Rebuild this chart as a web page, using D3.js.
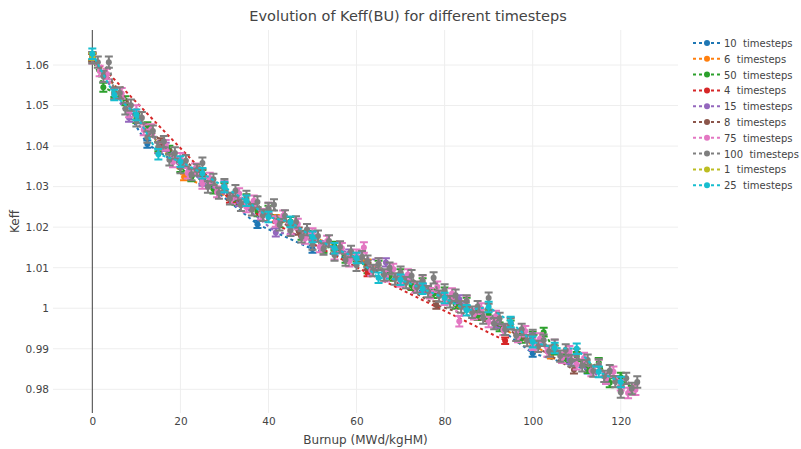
<!DOCTYPE html>
<html>
<head>
<meta charset="utf-8">
<script src="https://cdn.jsdelivr.net/npm/d3@7"></script>
<style>
  body { margin: 0; background: #fff; }
  svg { display: block; }
  text { font-family: "DejaVu Sans", Verdana, sans-serif; fill: #444; }
</style>
</head>
<body>
<svg id="chart" width="801" height="449"></svg>
<script>
// Total burnup covered by each depletion run (MWd/kgHM); a run with N timesteps
// reports Keff at N equally spaced burnup points starting from 0.
const TOTAL_BURNUP = 125;

const seriesNames = ["10  timesteps", "6  timesteps", "50  timesteps", "4  timesteps",
  "15  timesteps", "8  timesteps", "75  timesteps", "100  timesteps", "1  timesteps", "25  timesteps"];
const timestepCounts = [10, 6, 50, 4, 15, 8, 75, 100, 1, 25];
const seriesColors = ["#1f77b4", "#ff7f0e", "#2ca02c", "#d62728", "#9467bd",
  "#8c564b", "#e377c2", "#7f7f7f", "#bcbd22", "#17becf"];

// Keff values for each run
const keff10 = [1.0621, 1.0405, 1.0316, 1.0207, 1.0146, 1.0110, 1.0052, 0.9990, 0.9889, 0.9848];
const keff6 = [1.0619, 1.0324, 1.0222, 1.0112, 1.0010, 0.9884];
const keff50 = [
  1.0618, 1.0545, 1.0532, 1.0512, 1.0468, 1.0448, 1.0398, 1.0390, 1.0347, 1.0324,
  1.0330, 1.0294, 1.0298, 1.0266, 1.0270, 1.0238, 1.0242, 1.0211, 1.0214, 1.0180,
  1.0180, 1.0148, 1.0153, 1.0123, 1.0126, 1.0097, 1.0106, 1.0079, 1.0085, 1.0056,
  1.0063, 1.0036, 1.0040, 1.0010, 1.0015, 0.9982, 0.9985, 0.9954, 0.9959, 0.9926,
  0.9931, 0.9941, 0.9897, 0.9876, 0.9881, 0.9851, 0.9866, 0.9816, 0.9830, 0.9798];
const keff4 = [1.0621, 1.0268, 1.0087, 0.9920];
const keff15 = [1.0622, 1.0470, 1.0398, 1.0312, 1.0262, 1.0187, 1.0178, 1.0135,
  1.0113, 1.0050, 1.0022, 0.9962, 0.9928, 0.9873, 0.9824];
const keff8 = [1.0618, 1.0410, 1.0276, 1.0190, 1.0104, 1.0008, 0.9952, 0.9848];
const keff75 = [
  1.0617, 1.0585, 1.0578, 1.0528, 1.0530, 1.0484, 1.0488, 1.0440, 1.0441, 1.0396,
  1.0402, 1.0361, 1.0370, 1.0333, 1.0344, 1.0308, 1.0321, 1.0287, 1.0301, 1.0270,
  1.0283, 1.0250, 1.0265, 1.0232, 1.0247, 1.0214, 1.0228, 1.0195, 1.0208, 1.0172,
  1.0184, 1.0151, 1.0166, 1.0133, 1.0148, 1.0116, 1.0132, 1.0150, 1.0093, 1.0110,
  1.0079, 1.0097, 1.0066, 1.0083, 1.0051, 1.0068, 1.0037, 1.0053, 1.0021, 1.0036,
  0.9968, 1.0018, 0.9985, 0.9999, 0.9966, 0.9981, 0.9947, 0.9964, 0.9929, 0.9943,
  0.9910, 0.9925, 0.9893, 0.9909, 0.9878, 0.9894, 0.9862, 0.9877, 0.9845, 0.9860,
  0.9827, 0.9843, 0.9810, 0.9791, 0.9799];
const keff100 = [
  1.0618, 1.0607, 1.0572, 1.0607, 1.0530, 1.0531, 1.0492, 1.0501, 1.0462, 1.0470,
  1.0422, 1.0437, 1.0396, 1.0411, 1.0366, 1.0383, 1.0347, 1.0364, 1.0330, 1.0341,
  1.0358, 1.0299, 1.0318, 1.0284, 1.0305, 1.0270, 1.0290, 1.0254, 1.0276, 1.0243,
  1.0262, 1.0229, 1.0246, 1.0255, 1.0206, 1.0228, 1.0192, 1.0213, 1.0176, 1.0194,
  1.0158, 1.0178, 1.0146, 1.0166, 1.0131, 1.0151, 1.0119, 1.0140, 1.0106, 1.0127,
  1.0116, 1.0093, 1.0109, 1.0082, 1.0099, 1.0072, 1.0089, 1.0063, 1.0080, 1.0052,
  1.0068, 1.0041, 1.0075, 1.0030, 1.0045, 1.0016, 1.0032, 1.0003, 1.0018, 0.9990,
  1.0004, 0.9976, 1.0025, 0.9962, 0.9975, 0.9948, 0.9962, 0.9933, 0.9948, 0.9920,
  0.9933, 0.9906, 0.9921, 0.9894, 0.9909, 0.9882, 0.9897, 0.9871, 0.9886, 0.9858,
  0.9872, 0.9845, 0.9860, 0.9832, 0.9846, 0.9819, 0.9793, 0.9827, 0.9802, 0.9818];
const keff1 = [1.0621];
const keff25 = [1.0628, 1.0526, 1.0477, 1.0380, 1.0362, 1.0333, 1.0299, 1.0265, 1.0225,
  1.0213, 1.0176, 1.0148, 1.0124, 1.0075, 1.0070, 1.0048, 1.0025, 0.9995, 1.0003,
  0.9966, 0.9917, 0.9902, 0.9900, 0.9843, 0.9818];

const seriesValues = [keff10, keff6, keff50, keff4, keff15, keff8, keff75, keff100, keff1, keff25];
// One-sigma statistical uncertainty of Keff for each run
const seriesErrors = [0.0009, 0.0008, 0.0011, 0.0008, 0.0010, 0.0009, 0.0013, 0.0014, 0.0008, 0.0013];

const xTicks = [0, 20, 40, 60, 80, 100, 120];
const yTicks = [0.98, 0.99, 1.00, 1.01, 1.02, 1.03, 1.04, 1.05, 1.06];

const titleText = "Evolution of Keff(BU) for different timesteps";
const xTitle = "Burnup (MWd/kgHM)";
const yTitle = "Keff";

// ---- layout ----
const svg = d3.select("#chart");
const plot = { left: 53, right: 678, top: 30, bottom: 413 };

const x = d3.scaleLinear().domain([-8.93, 133.0]).range([plot.left, plot.right]);
const y = d3.scaleLinear().domain([0.974154, 1.068634]).range([plot.bottom, plot.top]);

const series = seriesNames.map((name, k) => ({
  name,
  color: seriesColors[k],
  err: seriesErrors[k],
  points: seriesValues[k].map((v, i) => ({ bu: i * TOTAL_BURNUP / timestepCounts[k], keff: v }))
}));

// grid lines
const grid = svg.append("g");
grid.selectAll("line.gx").data(xTicks).join("line")
  .attr("x1", d => x(d)).attr("x2", d => x(d))
  .attr("y1", plot.top).attr("y2", plot.bottom)
  .attr("stroke", "#eee").attr("stroke-width", 1);
grid.selectAll("line.gy").data(yTicks).join("line")
  .attr("x1", plot.left).attr("x2", plot.right)
  .attr("y1", d => y(d)).attr("y2", d => y(d))
  .attr("stroke", "#eee").attr("stroke-width", 1);

// zero line of the burnup axis
svg.append("line")
  .attr("x1", x(0)).attr("x2", x(0)).attr("y1", plot.top).attr("y2", plot.bottom)
  .attr("stroke", "#444").attr("stroke-width", 1);

// axes (labels only, no domain line or tick marks)
const fmt = d => String(+d.toFixed(2));
const xAxis = svg.append("g").attr("transform", `translate(0,${plot.bottom})`)
  .call(d3.axisBottom(x).tickValues(xTicks).tickFormat(fmt).tickSize(0).tickPadding(5));
const yAxis = svg.append("g").attr("transform", `translate(${plot.left},0)`)
  .call(d3.axisLeft(y).tickValues(yTicks).tickFormat(fmt).tickSize(0).tickPadding(4));
[xAxis, yAxis].forEach(a => {
  a.select(".domain").remove();
  a.selectAll("text").style("font-family", null).attr("font-size", 10.5).attr("fill", "#444");
});

// traces
const line = d3.line().x(d => x(d.bu)).y(d => y(d.keff));
const traces = svg.append("g");
series.forEach(s => {
  const g = traces.append("g");
  g.append("path").datum(s.points)
    .attr("d", line).attr("fill", "none")
    .attr("stroke", s.color).attr("stroke-width", 2).attr("stroke-dasharray", "3,3");
  const eb = g.append("g");
  eb.selectAll("path").data(s.points).join("path")
    .attr("d", d => {
      const cx = x(d.bu), y0 = y(d.keff - s.err), y1 = y(d.keff + s.err);
      return `M${cx - 4},${y1}h8M${cx},${y1}V${y0}M${cx - 4},${y0}h8`;
    })
    .attr("fill", "none").attr("stroke", s.color).attr("stroke-width", 2);
  g.append("g").selectAll("circle").data(s.points).join("circle")
    .attr("cx", d => x(d.bu)).attr("cy", d => y(d.keff)).attr("r", 3)
    .attr("fill", s.color);
});

// titles
svg.append("text").attr("x", 408).attr("y", 21).attr("text-anchor", "middle")
  .attr("font-size", 14.5).text(titleText);
svg.append("text").attr("x", (plot.left + plot.right) / 2).attr("y", 444)
  .attr("text-anchor", "middle").attr("font-size", 12).text(xTitle);
svg.append("text").attr("transform", `translate(19,${(plot.top + plot.bottom) / 2}) rotate(-90)`)
  .attr("text-anchor", "middle").attr("font-size", 12).text(yTitle);

// legend
const legend = svg.append("g").attr("transform", "translate(690,43)");
const rows = legend.selectAll("g").data(series).join("g")
  .attr("transform", (d, i) => `translate(0,${i * 15.8})`);
rows.append("line").attr("x1", 3).attr("x2", 30).attr("y1", 0).attr("y2", 0)
  .attr("stroke", d => d.color).attr("stroke-width", 2).attr("stroke-dasharray", "3,3");
rows.append("circle").attr("cx", 17).attr("cy", 0).attr("r", 3).attr("fill", d => d.color);
rows.append("text").attr("x", 34).attr("y", 4).attr("font-size", 10)
  .attr("xml:space", "preserve").style("white-space", "pre").text(d => d.name);
</script>
</body>
</html>
